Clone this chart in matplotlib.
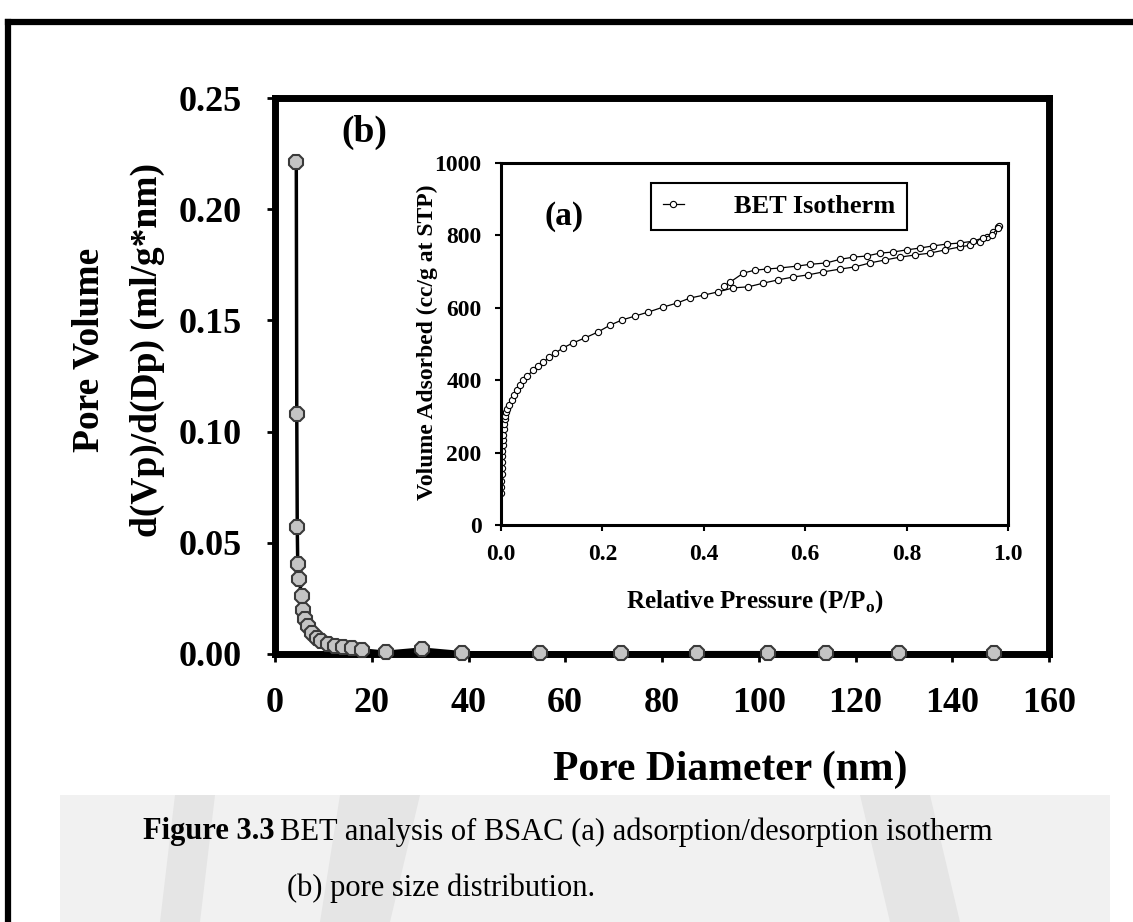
import matplotlib
matplotlib.use('Agg')
import matplotlib.pyplot as plt
from matplotlib.patches import Rectangle, Polygon
from matplotlib.lines import Line2D

plt.rcParams['font.family'] = ['Liberation Serif', 'DejaVu Serif']
plt.rcParams['mathtext.fontset'] = 'custom'
plt.rcParams['mathtext.rm'] = 'Liberation Serif'
plt.rcParams['mathtext.bf'] = 'Liberation Serif:bold'

# (b) pore size distribution
pore_d = [4.4, 4.5, 4.6, 4.7, 4.9, 5.6, 5.8, 6.2, 6.8, 7.6, 8.6, 9.6, 11.0, 12.4,
          14.1, 15.9, 18.0, 23.0, 30.3, 38.6, 54.7, 71.5, 87.3, 102.0, 113.8,
          128.9, 148.6]
pore_v = [0.221, 0.108, 0.057, 0.0405, 0.0338, 0.026, 0.020, 0.0158, 0.0126,
          0.0095, 0.0072, 0.0059, 0.0045, 0.0036, 0.0032, 0.0027, 0.0018, 0.0008,
          0.0022, 0.0006, 0.0004, 0.0004, 0.0006, 0.0006, 0.0005, 0.0005, 0.0004]

# (a) BET isotherm, adsorption branch
ads_p = [0.0003, 0.0005, 0.0008, 0.001, 0.0013, 0.0016, 0.002, 0.0025, 0.003,
         0.0035, 0.004, 0.005, 0.006, 0.007, 0.008, 0.01, 0.012, 0.016, 0.021,
         0.026, 0.031, 0.037, 0.044, 0.052, 0.064, 0.073, 0.083, 0.095, 0.107,
         0.122, 0.142, 0.166, 0.191, 0.215, 0.238, 0.264, 0.290, 0.320, 0.347,
         0.373, 0.400, 0.428, 0.458, 0.488, 0.517, 0.546, 0.576, 0.606, 0.635,
         0.669, 0.698, 0.728, 0.757, 0.787, 0.817, 0.846, 0.876, 0.905, 0.925,
         0.945, 0.958, 0.970, 0.980]
ads_v = [88, 105, 122, 140, 158, 175, 190, 205, 220, 235, 250, 265, 280, 292,
         302, 312, 320, 332, 345, 360, 373, 386, 400, 412, 428, 440, 450, 463,
         475, 489, 503, 517, 533, 552, 566, 577, 588, 602, 613, 627, 635, 644,
         655, 658, 668, 677, 685, 691, 699, 707, 713, 724, 732, 740, 746, 751,
         760, 768, 773, 782, 796, 809, 823]

# desorption branch
des_p = [0.983, 0.980, 0.968, 0.951, 0.931, 0.905, 0.879, 0.852, 0.826, 0.800,
         0.773, 0.747, 0.721, 0.695, 0.669, 0.642, 0.609, 0.583, 0.550, 0.524,
         0.501, 0.478, 0.452, 0.440]
des_v = [826, 820, 801, 793, 784, 779, 776, 771, 765, 760, 754, 751, 743, 740,
         734, 724, 720, 715, 710, 707, 704, 696, 671, 660]

main_xticks = [0, 20, 40, 60, 80, 100, 120, 140, 160]
main_yticks = [0.00, 0.05, 0.10, 0.15, 0.20, 0.25]
inset_xticks = [0.0, 0.2, 0.4, 0.6, 0.8, 1.0]
inset_yticks = [0, 200, 400, 600, 800, 1000]

W, H = 1133, 922
fig = plt.figure(figsize=(W / 100, H / 100), dpi=100)


def fx(px):
    return px / W


def fy(py):
    return 1 - py / H


# faint watermark behind the caption
fig.patches.append(Rectangle((fx(60), 0), fx(1050), fy(795), transform=fig.transFigure,
                             facecolor='#f1f1f1', edgecolor='none', zorder=0))
for pts in [[(175, 795), (215, 795), (200, 922), (160, 922)],
            [(340, 795), (420, 795), (390, 922), (320, 922)],
            [(860, 795), (930, 795), (960, 922), (890, 922)]]:
    fig.patches.append(Polygon([(fx(a), fy(b)) for a, b in pts], closed=True,
                               transform=fig.transFigure, facecolor='#e5e5e5',
                               edgecolor='none', zorder=0))

# page frame (cropped at right and bottom)
fig.lines.append(Line2D([fx(8), 1], [fy(22), fy(22)], transform=fig.transFigure,
                        color='black', lw=4.5))
fig.lines.append(Line2D([fx(8), fx(8)], [0, fy(22)], transform=fig.transFigure,
                        color='black', lw=4.5))

# ---- main axes (b)
ax = fig.add_axes([fx(275), fy(654), fx(1049 - 275), (654 - 98) / H])
ax.plot(pore_d, pore_v, color='black', lw=2.5, marker='8', markersize=11,
        markerfacecolor='#c4c4c4', markeredgecolor='#3a3a3a', markeredgewidth=1.5,
        clip_on=False, zorder=5)
ax.set_xlim(0, 160)
ax.set_ylim(0, 0.25)
ax.set_xticks(main_xticks)
ax.set_yticks(main_yticks)
ax.set_yticklabels(['%.2f' % v for v in main_yticks])
for s in ax.spines.values():
    s.set_linewidth(5)
ax.tick_params(direction='out', length=6, width=2, pad=18, labelsize=26)
for lab in ax.get_xticklabels() + ax.get_yticklabels():
    lab.set_fontweight('bold')

fig.text(fx(118), fy(350), 'Pore Volume\nd(Vp)/d(Dp) (ml/g*nm)', rotation=90,
         ha='center', va='center', multialignment='center', fontsize=27,
         fontweight='bold', linespacing=1.85)
fig.text(fx(730), fy(770), 'Pore Diameter (nm)', ha='center', va='center',
         fontsize=30, fontweight='bold')
fig.text(fx(364), fy(132), '(b)', ha='center', va='center', fontsize=27,
         fontweight='bold')

# ---- inset axes (a)
axi = fig.add_axes([fx(501), fy(525), fx(1008 - 501), (525 - 163) / H])
axi.plot(ads_p, ads_v, color='black', lw=0.9, marker='o', markersize=4.5,
         markerfacecolor='white', markeredgecolor='black', markeredgewidth=0.8,
         label='BET Isotherm')
axi.plot(des_p, des_v, color='black', lw=0.9, marker='o', markersize=4.5,
         markerfacecolor='white', markeredgecolor='black', markeredgewidth=0.8)
axi.set_xlim(0, 1)
axi.set_ylim(0, 1000)
axi.set_xticks(inset_xticks)
axi.set_yticks(inset_yticks)
axi.set_xticklabels(['%.1f' % v for v in inset_xticks])
for s in axi.spines.values():
    s.set_linewidth(2.2)
axi.tick_params(direction='out', length=4, width=1.5, pad=10, labelsize=17)
for lab in axi.get_xticklabels() + axi.get_yticklabels():
    lab.set_fontweight('bold')

leg = axi.legend(loc='upper left', bbox_to_anchor=((651 - 501) / 507, (525 - 183) / 362),
                 borderaxespad=0, handlelength=0.8, handletextpad=1.9, borderpad=0.45,
                 fancybox=False, edgecolor='black', framealpha=1,
                 prop={'size': 19, 'weight': 'bold', 'family': 'Liberation Serif'})
leg.get_frame().set_linewidth(1.5)

fig.text(fx(427), fy(342), 'Volume Adsorbed (cc/g at STP)', rotation=90, ha='center',
         va='center', fontsize=17, fontweight='bold')
fig.text(fx(755), fy(602), r'Relative Pressure (P/P$_\mathbf{o}$)', ha='center',
         va='center', fontsize=18, fontweight='bold')
fig.text(fx(564), fy(216), '(a)', ha='center', va='center', fontsize=24,
         fontweight='bold')

# ---- caption
cap1 = fig.text(fx(143), fy(832), 'Figure 3.3', ha='left', va='center', fontsize=22,
                fontweight='bold', zorder=3)
fig.canvas.draw()
bb = cap1.get_window_extent()
fig.text(bb.x1 / W + fx(5), fy(832), 'BET analysis of BSAC (a) adsorption/desorption isotherm',
         ha='left', va='center', fontsize=22, zorder=3)
fig.text(fx(287), fy(888), '(b) pore size distribution.', ha='left', va='center',
         fontsize=22, zorder=3)

fig.savefig('out.png', dpi=100, facecolor='white')
